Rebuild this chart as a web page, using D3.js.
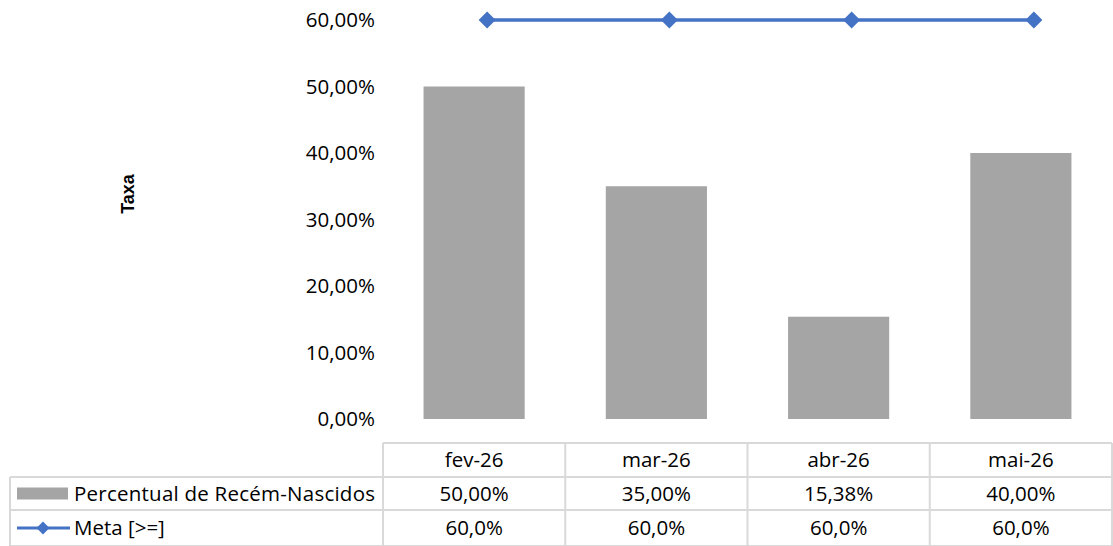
<!DOCTYPE html>
<html>
<head>
<meta charset="utf-8">
<script src="https://cdn.jsdelivr.net/npm/d3@7"></script>
<style>
  body { margin: 0; background: #fff; }
  text { font-family: "Open Sans", sans-serif; fill: #000; }
</style>
</head>
<body>
<div id="chart"></div>
<script>
/* DATA */
const categories = ["fev-26", "mar-26", "abr-26", "mai-26"];
const percentual = [0.5, 0.35, 0.1538, 0.4];
const meta = [0.6, 0.6, 0.6, 0.6];
const yTicks = [0, 0.1, 0.2, 0.3, 0.4, 0.5, 0.6];
const seriesNames = ["Percentual de Recém-Nascidos", "Meta [>=]"];

/* CONSTANTS */
const width = 1113, height = 546;
const plot = { left: 383, right: 1112, top: 20, bottom: 419 };
const rowY = [443, 477, 510, 546];
const tableLeft = 10;
const lineShift = 13; // the line series sits a bit right of the bar centres
const barColor = "#A5A5A5", lineColor = "#4472C4", gridColor = "#D9D9D9";
const fontSize = 20.5;

const pt = d3.formatLocale({ decimal: ",", thousands: ".", grouping: [3], currency: ["R$", ""] });
const fmt2 = pt.format(".2%");
const fmt1 = pt.format(".1%");

const svg = d3.select("#chart").append("svg")
  .attr("width", width)
  .attr("height", height);

const x = d3.scaleBand()
  .domain(categories)
  .range([plot.left, plot.right])
  .padding(0);

const y = d3.scaleLinear()
  .domain([0, 0.6])
  .range([plot.bottom, plot.top]);

// y axis labels
svg.append("g")
  .attr("transform", `translate(${plot.left - 8},0)`)
  .call(d3.axisLeft(y).tickValues(yTicks).tickFormat(fmt2).tickSize(0).tickPadding(0))
  .call(g => g.select(".domain").remove())
  .call(g => g.selectAll("text")
    .attr("font-family", "Open Sans")
    .attr("font-size", fontSize)
    .attr("fill", "#000"));

// axis title
svg.append("text")
  .attr("transform", `translate(134,194) rotate(-90)`)
  .attr("text-anchor", "middle")
  .style("font-family", "'Liberation Sans', Arial, sans-serif")
  .attr("font-size", 18)
  .attr("font-weight", "bold")
  .text("Taxa");

// bars
const barW = x.bandwidth() * 0.555;
svg.selectAll("rect.bar")
  .data(categories.map((c, i) => ({ c, v: percentual[i] })))
  .join("rect")
  .attr("class", "bar")
  .attr("x", d => x(d.c) + (x.bandwidth() - barW) / 2)
  .attr("y", d => y(d.v))
  .attr("width", barW)
  .attr("height", d => y(0) - y(d.v))
  .attr("fill", barColor);

// meta line
const metaData = categories.map((c, i) => ({ c, v: meta[i] }));
const lx = d => x(d.c) + x.bandwidth() / 2 + lineShift;
svg.append("path")
  .datum(metaData)
  .attr("fill", "none")
  .attr("stroke", lineColor)
  .attr("stroke-width", 3.3)
  .attr("d", d3.line().x(lx).y(d => y(d.v)));

const diamond = "M0,-8.5L8.5,0L0,8.5L-8.5,0Z";
svg.selectAll("path.marker")
  .data(metaData)
  .join("path")
  .attr("class", "marker")
  .attr("d", diamond)
  .attr("transform", d => `translate(${lx(d)},${y(d.v)})`)
  .attr("fill", lineColor);

/* DATA TABLE */
const grid = svg.append("g")
  .attr("stroke", gridColor)
  .attr("stroke-width", 2);

// horizontal lines
grid.append("line").attr("x1", plot.left).attr("x2", plot.right).attr("y1", rowY[0]).attr("y2", rowY[0]);
grid.append("line").attr("x1", tableLeft).attr("x2", plot.right).attr("y1", rowY[1]).attr("y2", rowY[1]);
grid.append("line").attr("x1", tableLeft).attr("x2", plot.right).attr("y1", rowY[2]).attr("y2", rowY[2]);
grid.append("line").attr("x1", tableLeft).attr("x2", plot.right).attr("y1", rowY[3]).attr("y2", rowY[3]);

// vertical lines
grid.append("line").attr("x1", tableLeft).attr("x2", tableLeft).attr("y1", rowY[1]).attr("y2", rowY[3]);
grid.selectAll("line.col")
  .data(categories)
  .join("line")
  .attr("class", "col")
  .attr("x1", d => x(d)).attr("x2", d => x(d))
  .attr("y1", rowY[0]).attr("y2", rowY[3]);
grid.append("line").attr("x1", plot.right).attr("x2", plot.right).attr("y1", rowY[0]).attr("y2", rowY[3]);

const cellText = (txt, cx, r) => svg.append("text")
  .attr("x", cx)
  .attr("y", (rowY[r] + rowY[r + 1]) / 2)
  .attr("dy", "0.35em")
  .attr("text-anchor", "middle")
  .attr("font-size", fontSize)
  .text(txt);

categories.forEach((c, i) => {
  const cx = x(c) + x.bandwidth() / 2;
  cellText(c, cx, 0);
  cellText(fmt2(percentual[i]), cx, 1);
  cellText(fmt1(meta[i]), cx, 2);
});

// legend keys
const r1 = (rowY[1] + rowY[2]) / 2, r2 = (rowY[2] + rowY[3]) / 2;
svg.append("rect")
  .attr("x", 17).attr("y", r1 - 6)
  .attr("width", 51).attr("height", 12)
  .attr("fill", barColor);
svg.append("line")
  .attr("x1", 17).attr("x2", 70).attr("y1", r2).attr("y2", r2)
  .attr("stroke", lineColor).attr("stroke-width", 3);
svg.append("path")
  .attr("d", "M0,-6.5L6.5,0L0,6.5L-6.5,0Z")
  .attr("transform", `translate(43,${r2})`)
  .attr("fill", lineColor);

svg.append("text").attr("x", 74).attr("y", r1).attr("dy", "0.35em")
  .attr("font-size", fontSize)
  .attr("textLength", 301).attr("lengthAdjust", "spacing")
  .text(seriesNames[0]);
svg.append("text").attr("x", 74).attr("y", r2).attr("dy", "0.35em")
  .attr("font-size", fontSize).text(seriesNames[1]);
</script>
</body>
</html>
